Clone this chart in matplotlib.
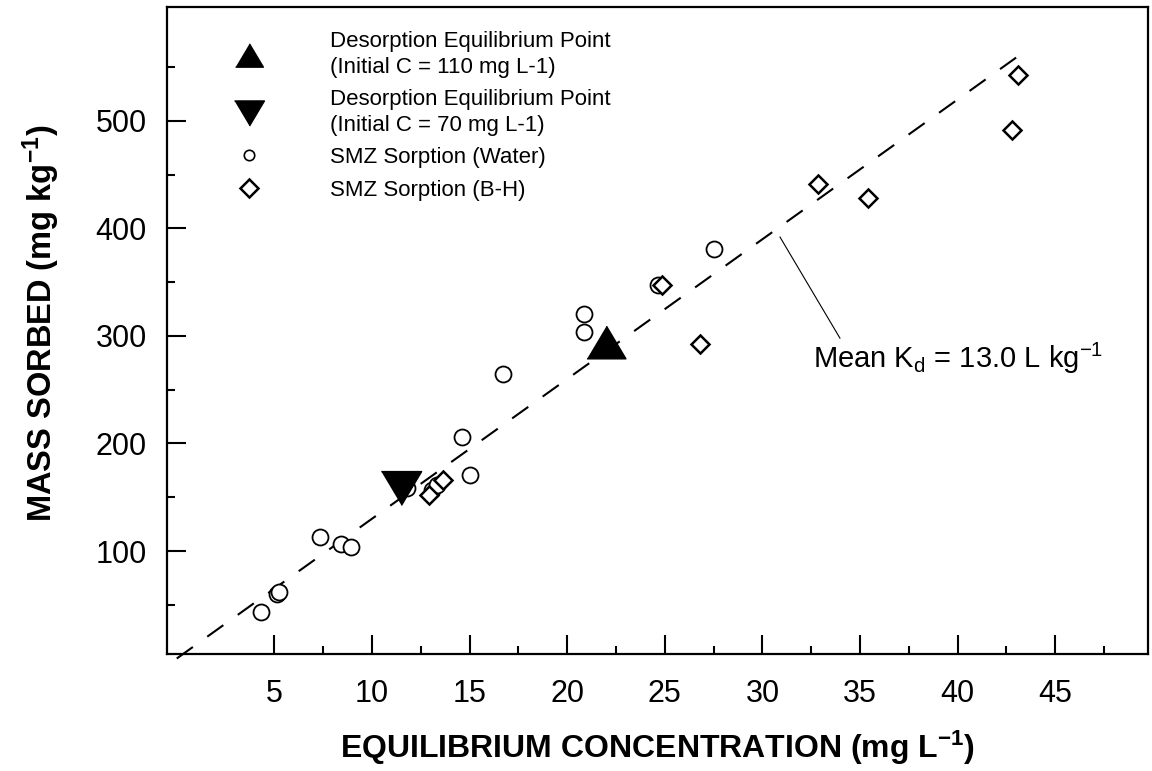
import matplotlib
matplotlib.use('Agg')
import matplotlib.pyplot as plt
from matplotlib.lines import Line2D
import numpy as np

plt.rcParams['font.family'] = ['Liberation Sans', 'DejaVu Sans']
plt.rcParams['mathtext.fontset'] = 'custom'
plt.rcParams['mathtext.rm'] = 'Liberation Sans'
plt.rcParams['mathtext.it'] = 'Liberation Sans'
plt.rcParams['mathtext.bf'] = 'Liberation Sans:bold'

# ---- data ----
water_x = [4.3, 5.15, 5.25, 7.35, 8.4, 8.95, 11.8, 13.05, 13.35, 14.6, 15.0, 16.7,
           20.85, 20.85, 24.65, 27.5]
water_y = [43, 60, 62, 113, 106.5, 103.5, 159, 157, 161, 206, 171, 265,
           320, 304, 347, 381]
bh_x = [12.9, 13.65, 24.85, 26.8, 32.85, 35.4, 42.8, 43.1]
bh_y = [152, 166, 347, 293, 441, 428, 492, 543]
des110_x = [22.0]
des110_y = [294]
des70_x = [11.5]
des70_y = [159]
mean_kd = 13.0
fit_x = [0.0, 43.4]

xticks_major = [5, 10, 15, 20, 25, 30, 35, 40, 45]
xticks_minor = [7.5, 12.5, 17.5, 22.5, 27.5, 32.5, 37.5, 42.5, 47.5]
yticks_major = [100, 200, 300, 400, 500]
yticks_minor = [50, 150, 250, 350, 450, 550]

legend_labels = ['Desorption Equilibrium Point\n(Initial C = 110 mg L-1)',
                 'Desorption Equilibrium Point\n(Initial C = 70 mg L-1)',
                 'SMZ Sorption (Water)',
                 'SMZ Sorption (B-H)']

annot_text = r'Mean K$_\mathregular{d}$ = 13.0 L kg$^\mathregular{-1}$'
annot_xy = (30.9, 392)
annot_line_end = (33.97, 298)
annot_text_pos = (32.6, 270)

# ---- figure ----
W, H = 1152, 771
fig = plt.figure(figsize=(W / 100, H / 100), dpi=100)
ax = fig.add_axes([167 / W, 1 - 654 / H, (1148 - 167) / W, (654 - 7) / H])

up_tri = [(-1, -0.84), (1, -0.84), (0, 0.84)]
down_tri = [(-1, 0.84), (1, 0.84), (0, -0.84)]

# fitted mean Kd line
fit_y = [mean_kd * v for v in fit_x]
ax.plot(fit_x, fit_y, color='black', lw=1.5, dashes=(9.5, 8.5), clip_on=False, zorder=2)

ax.plot(water_x, water_y, ls='none', marker='o', ms=11.5, mfc='white', mec='black',
        mew=1.3, zorder=3)
ax.plot(bh_x, bh_y, ls='none', marker='D', ms=9.2, mfc='white', mec='black',
        mew=1.8, zorder=3)
ax.plot(des110_x, des110_y, ls='none', marker=up_tri, ms=28, color='black', zorder=4)
ax.plot(des70_x, des70_y, ls='none', marker=down_tri, ms=29, color='black', zorder=4)

# annotation
ax.plot([annot_xy[0], annot_line_end[0]], [annot_xy[1], annot_line_end[1]],
        color='black', lw=0.8, zorder=2)
ax.text(annot_text_pos[0], annot_text_pos[1], annot_text, fontsize=21,
        ha='left', va='baseline')

ax.set_xlim(-0.5, 49.75)
ax.set_ylim(4.2, 606)
ax.set_xticks(xticks_major)
ax.set_xticks(xticks_minor, minor=True)
ax.set_yticks(yticks_major)
ax.set_yticks(yticks_minor, minor=True)
ax.tick_params(which='both', direction='in', top=False, right=False, width=1.5)
ax.tick_params(which='major', length=13.5, labelsize=22)
ax.tick_params(axis='x', which='major', pad=18)
ax.tick_params(axis='y', which='major', pad=14.4)
ax.tick_params(which='minor', length=5.8)
for s in ax.spines.values():
    s.set_linewidth(1.6)

ax.set_xlabel(r'EQUILIBRIUM CONCENTRATION (mg L$^{\mathbf{-1}}$)', fontsize=23,
              fontweight='bold', labelpad=14.5)
ax.set_ylabel(r'MASS SORBED (mg kg$^{\mathbf{-1}}$)', fontsize=23.5,
              fontweight='bold')
ax.yaxis.set_label_coords((62 - 167) / (1148 - 167), 0.511)

# legend
handles = [
    Line2D([], [], ls='none', marker=up_tri, ms=20, color='black'),
    Line2D([], [], ls='none', marker=down_tri, ms=21.5, color='black'),
    Line2D([], [], ls='none', marker='o', ms=7.5, mfc='white', mec='black', mew=1.2),
    Line2D([], [], ls='none', marker='D', ms=9.2, mfc='white', mec='black', mew=1.8),
]
leg = ax.legend(handles, legend_labels, loc='upper left',
                bbox_to_anchor=(226.5 / W, 1 - 31 / H), bbox_transform=fig.transFigure,
                frameon=False, fontsize=16, handlelength=2.0, handletextpad=2.66,
                borderpad=0, borderaxespad=0, labelspacing=0.51)
for t in leg.get_texts():
    t.set_linespacing(1.3)

fig.savefig('out.png', dpi=100)
